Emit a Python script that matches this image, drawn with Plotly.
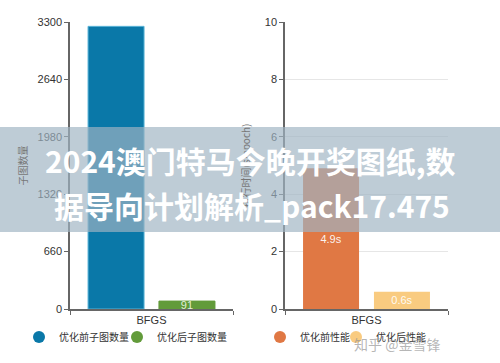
import plotly.graph_objects as go
from plotly.subplots import make_subplots

# ---- data ----
categories = ["BFGS"]
left_names = ["优化前子图数量", "优化后子图数量"]
left_values = [3250, 91]
left_labels = ["", "91"]
left_colors = ["#0a78a8", "#629b3a"]
left_ticks = [0, 660, 1320, 1980, 2640, 3300]

right_names = ["优化前性能", "优化后性能"]
right_values = [4.9, 0.6]
right_labels = ["4.9s", "0.6s"]
right_colors = ["#e07844", "#f9cb80"]
right_ticks = [0, 2, 4, 6, 8, 10]

title_line1 = "2024澳门特马今晚开奖图纸,数"
title_line2 = "据导向计划解析_pack17.475"
watermark = "知乎 @金雪锋"

W, H = 500, 363
FONT = "Liberation Sans, Noto Sans CJK SC, sans-serif"
CJK = "Noto Sans CJK SC, sans-serif"

fig = make_subplots(rows=1, cols=2)

for i in range(2):
    fig.add_trace(go.Bar(
        x=categories, y=[left_values[i]], name=left_names[i],
        marker=dict(color=left_colors[i],
                    line=dict(color="#5ab4d8" if i == 0 else left_colors[i], width=1)),
        text=[left_labels[i]], textposition="inside", insidetextanchor="middle",
        constraintext="none", cliponaxis=False,
        textfont=dict(color="rgba(235,245,225,0.95)", size=11, family=FONT),
        showlegend=False), row=1, col=1)
    fig.add_trace(go.Scatter(
        x=[None], y=[None], mode="markers", name=left_names[i],
        marker=dict(color=left_colors[i], size=12, symbol="circle"),
        legend="legend" if i == 0 else "legend2"), row=1, col=1)

for i in range(2):
    fig.add_trace(go.Bar(
        x=categories, y=[right_values[i]], name=right_names[i],
        marker=dict(color=right_colors[i], line=dict(width=0)),
        text=[right_labels[i]], textposition="inside", insidetextanchor="middle",
        constraintext="none", cliponaxis=False,
        textfont=dict(color="rgba(255,255,255,0.92)", size=11, family=FONT),
        showlegend=False), row=1, col=2)
    fig.add_trace(go.Scatter(
        x=[None], y=[None], mode="markers", name=right_names[i],
        marker=dict(color=right_colors[i], size=12, symbol="circle"),
        legend="legend3" if i == 0 else "legend4"), row=1, col=2)

ydom = [1 - 309 / H, 1 - 22 / H]
axis_common = dict(showline=True, linecolor="#666", linewidth=1.5,
                   ticks="outside", ticklen=4, tickcolor="#666",
                   tickfont=dict(size=11, color="#333", family=FONT))

fig.update_xaxes(domain=[70 / W, 233 / W], row=1, col=1,
                 tickson="boundaries", automargin=False, **axis_common)
fig.update_xaxes(domain=[285 / W, 448 / W], row=1, col=2,
                 tickson="boundaries", automargin=False, **axis_common)
fig.update_yaxes(domain=ydom, range=[0, 3300], tickvals=left_ticks,
                 showgrid=False, zeroline=False, automargin=False,
                 title=dict(text="子图数量", font=dict(size=10, color="#777", family=CJK), standoff=8),
                 row=1, col=1, **axis_common)
fig.update_yaxes(domain=ydom, range=[0, 10], tickvals=right_ticks,
                 showgrid=True, gridcolor="#e6e6e6", zeroline=False, automargin=False,
                 title=dict(text="执行时间(s/epoch)", font=dict(size=10, color="#777", family=CJK), standoff=12),
                 row=1, col=2, **axis_common)

# title band overlay
fig.add_shape(type="rect", xref="paper", yref="paper",
              x0=0, x1=1, y0=1 - 232 / H, y1=1 - 127 / H,
              fillcolor="rgba(159,180,194,0.68)", line=dict(width=0), layer="above")

fig.add_annotation(text="<b>" + title_line1 + "</b>", xref="paper", yref="paper",
                   x=250 / W, y=1 - 160 / H, showarrow=False,
                   font=dict(size=30, color="white", family=CJK))
fig.add_annotation(text="<b>" + title_line2 + "</b>", xref="paper", yref="paper",
                   x=252 / W, y=1 - 205 / H, showarrow=False,
                   font=dict(size=30, color="white", family=CJK))
fig.add_annotation(text=watermark, xref="paper", yref="paper",
                   x=442 / W, y=1 - 344 / H, yanchor="middle", showarrow=False,
                   font=dict(size=14, color="rgba(150,150,150,0.7)", family=CJK))

def leg(cx):
    return dict(orientation="h", x=(cx - 20) / W, y=1 - 337 / H,
                xanchor="left", yanchor="middle",
                font=dict(size=10, color="#333", family=CJK),
                bgcolor="rgba(0,0,0,0)")

fig.update_layout(
    width=W, height=H, margin=dict(l=0, r=0, t=0, b=0, autoexpand=False),
    paper_bgcolor="white", plot_bgcolor="white",
    barmode="group", bargap=0.13, bargroupgap=0.21,
    font=dict(family=FONT, color="#333"),
    legend=leg(39), legend2=leg(137), legend3=leg(280), legend4=leg(356),
)

fig.write_html("out.html", config={"displayModeBar": False},
               post_script="document.body.style.margin='0';")
